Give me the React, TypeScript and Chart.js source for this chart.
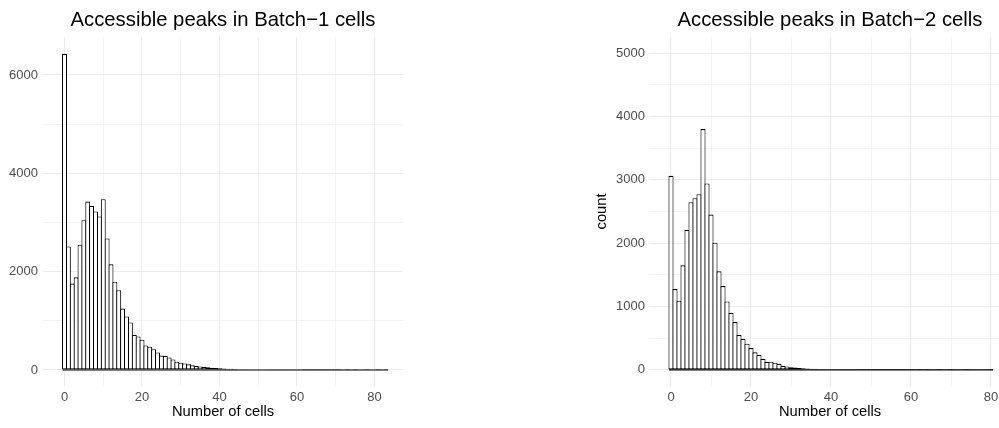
import React, { useEffect, useRef } from "react";
import { Chart, registerables } from "chart.js";

Chart.register(...registerables);

// ---- Data ----
const batch1Counts = [
  6430, 2514, 1757, 1885, 2547, 3047, 3426, 3338, 3223, 3122,
  3473, 2676, 2149, 1797, 1622, 1250, 1088, 966, 716, 682,
  615, 500, 473, 422, 358, 293, 287, 257, 216, 169,
  150, 135, 115, 95, 81, 74, 61, 54, 47, 40,
  34, 30, 27, 24, 21, 18, 16, 14, 12, 11,
  9, 8, 8, 7, 6, 5, 5, 4, 4, 3,
  3, 3, 2, 2, 2, 2, 1, 1, 1, 1,
  1, 1, 0, 1, 0, 1, 0, 0, 1, 0,
  0, 1, 0, 1,
];

const batch2Counts = [
  3063, 1276, 1091, 1650, 2209, 2646, 2710, 2773, 3801, 2942,
  2451, 2008, 1555, 1323, 1081, 901, 754, 552, 488, 412,
  344, 277, 235, 172, 127, 128, 112, 95, 63, 53,
  42, 37, 28, 26, 21, 19, 16, 13, 11, 10,
  9, 8, 7, 6, 5, 5, 4, 4, 3, 3,
  3, 2, 2, 2, 2, 1, 1, 1, 1, 1,
  1, 0, 1, 0, 1, 0, 0, 1, 0, 0,
  1, 0, 0, 0, 1, 0, 0, 0, 0, 0,
  1,
];

const xTickValues = [0, 10, 20, 30, 40, 50, 60, 70, 80];
const xLabelStep = 20;
const batch1YTicks = [0, 1000, 2000, 3000, 4000, 5000, 6000];
const batch1YLabelStep = 2000;
const batch2YTicks = [0, 500, 1000, 1500, 2000, 2500, 3000, 3500, 4000, 4500, 5000];
const batch2YLabelStep = 1000;

const batch1Title = "Accessible peaks in Batch\u22121 cells";
const batch2Title = "Accessible peaks in Batch\u22122 cells";
const xAxisTitle = "Number of cells";
const yAxisTitle = "count";

const FONT = "'Liberation Sans', Arial, Helvetica, sans-serif";
const GRID = "#EBEBEB";
const TICK_COLOR = "#4D4D4D";

type PanelSpec = {
  counts: number[];
  title: string;
  yTicks: number[];
  yLabelStep: number;
  xMin: number;
  xMax: number;
  yMin: number;
  yMax: number;
  yAxisWidth: number;
  yTickPadding: number;
  showYTitle: boolean;
  padRight: number;
  width: number;
  left: number;
};

const panels: PanelSpec[] = [
  {
    counts: batch1Counts,
    title: batch1Title,
    yTicks: batch1YTicks,
    yLabelStep: batch1YLabelStep,
    xMin: -5.55,
    xMax: 87.35,
    yMin: -325,
    yMax: 6772,
    yAxisWidth: 43,
    yTickPadding: 5,
    showYTitle: false,
    padRight: 17,
    width: 420,
    left: 0,
  },
  {
    counts: batch2Counts,
    title: batch2Title,
    yTicks: batch2YTicks,
    yLabelStep: batch2YLabelStep,
    xMin: -5.5,
    xMax: 85,
    yMin: -255,
    yMax: 5255,
    yAxisWidth: 89,
    yTickPadding: 4,
    showYTitle: true,
    padRight: 9,
    width: 460,
    left: 560,
  },
];

// Title centred over the plotting panel (like ggplot's default)
const panelTitlePlugin = {
  id: "panelTitle",
  afterDraw(chart: any, _args: any, opts: any) {
    const { ctx, chartArea } = chart;
    ctx.save();
    ctx.font = `normal ${opts.size}px ${FONT}`;
    ctx.fillStyle = "#000000";
    ctx.textAlign = "center";
    ctx.textBaseline = "alphabetic";
    ctx.fillText(opts.text, (chartArea.left + chartArea.right) / 2, opts.baseline);
    ctx.restore();
  },
};

function Panel({ spec }: { spec: PanelSpec }) {
  const ref = useRef<HTMLCanvasElement | null>(null);

  useEffect(() => {
    if (!ref.current) return;
    const bars = spec.counts.map((c, i) => ({ x: i, y: c }));
    const baseline = [
      { x: -0.5, y: 0 },
      { x: spec.counts.length - 0.5, y: 0 },
    ];
    const chart = new Chart(ref.current, {
      type: "bar",
      data: {
        datasets: [
          {
            type: "bar",
            data: bars,
            backgroundColor: "#FFFFFF",
            borderColor: "#000000",
            borderWidth: 1.1,
            borderSkipped: false,
            categoryPercentage: 1,
            barPercentage: 1.28,
            order: 2,
          } as any,
          {
            type: "line",
            data: baseline,
            borderColor: "#000000",
            borderWidth: 1.1,
            pointRadius: 0,
            fill: false,
            order: 1,
          } as any,
        ],
      },
      plugins: [panelTitlePlugin as any],
      options: {
        responsive: false,
        animation: false,
        devicePixelRatio: 1,
        layout: { padding: { left: 0, right: spec.padRight, top: 37, bottom: 0 } },
        plugins: {
          legend: { display: false },
          tooltip: { enabled: false },
          title: { display: false },
          panelTitle: { text: spec.title, size: 20.3, baseline: 26 },
        },
        scales: {
          x: {
            type: "linear",
            min: spec.xMin,
            max: spec.xMax,
            offset: false,
            afterBuildTicks: (s: any) => {
              s.ticks = xTickValues.map((v) => ({ value: v }));
            },
            afterFit: (s: any) => {
              s.height = 42;
            },
            grid: {
              color: GRID,
              lineWidth: (ctx: any) =>
                ctx.tick && ctx.tick.value % xLabelStep === 0 ? 1.1 : 0.6,
              drawTicks: false,
              offset: false,
            },
            border: { display: false },
            ticks: {
              autoSkip: false,
              maxRotation: 0,
              padding: 4,
              color: TICK_COLOR,
              font: { family: FONT, size: 13 },
              callback: (v: any) => (Number(v) % xLabelStep === 0 ? String(v) : ""),
            },
            title: {
              display: true,
              text: xAxisTitle,
              color: "#000000",
              font: { family: FONT, size: 14.7 },
              padding: { top: 0, bottom: 7.6 },
            },
          },
          y: {
            type: "linear",
            min: spec.yMin,
            max: spec.yMax,
            afterBuildTicks: (s: any) => {
              s.ticks = spec.yTicks.map((v) => ({ value: v }));
            },
            afterFit: (s: any) => {
              s.width = spec.yAxisWidth;
            },
            grid: {
              color: GRID,
              lineWidth: (ctx: any) =>
                ctx.tick && ctx.tick.value % spec.yLabelStep === 0 ? 1.1 : 0.6,
              drawTicks: false,
            },
            border: { display: false },
            ticks: {
              autoSkip: false,
              padding: spec.yTickPadding,
              color: TICK_COLOR,
              font: { family: FONT, size: 13 },
              callback: (v: any) =>
                Number(v) % spec.yLabelStep === 0 ? String(v) : "",
            },
            title: {
              display: spec.showYTitle,
              text: yAxisTitle,
              color: "#000000",
              font: { family: FONT, size: 14.7 },
              padding: { top: 33.2, bottom: 0 },
            },
          },
        },
      } as any,
    });
    return () => chart.destroy();
  }, [spec]);

  return (
    <canvas
      ref={ref}
      width={spec.width}
      height={428}
      style={{
        position: "absolute",
        left: spec.left,
        top: 0,
        width: spec.width,
        height: 428,
      }}
    />
  );
}

export default function App() {
  return (
    <div
      style={{
        position: "absolute",
        left: 0,
        top: 0,
        width: 999,
        height: 428,
        overflow: "hidden",
        background: "#FFFFFF",
      }}
    >
      {panels.map((p, i) => (
        <Panel key={i} spec={p} />
      ))}
    </div>
  );
}
